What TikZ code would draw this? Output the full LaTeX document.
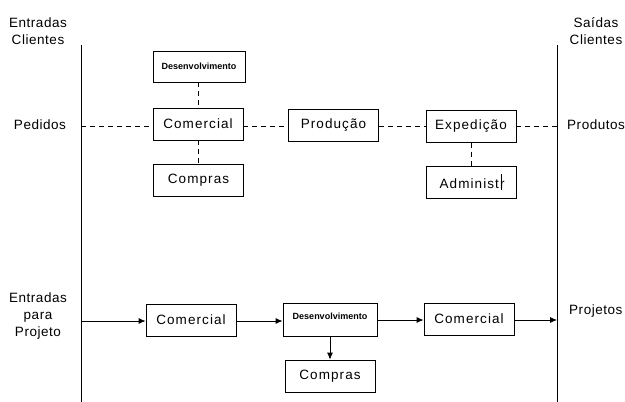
\documentclass[tikz,border=0pt]{standalone}
\usepackage{fontspec}
\setmainfont{Liberation Sans}
\usetikzlibrary{arrows.meta}
\begin{document}
\begin{tikzpicture}[x=1pt,y=-1pt,
  box/.style={draw,thick,minimum width=90pt,minimum height=32pt,inner sep=0pt,font=\fontsize{13.5}{15}\selectfont\addfontfeatures{LetterSpace=8}},
  lbl/.style={font=\fontsize{13.5}{17}\selectfont\addfontfeatures{LetterSpace=4},align=center,inner sep=0pt},
  small/.style={font=\fontsize{9}{10}\selectfont\bfseries\addfontfeatures{LetterSpace=0}},
  dsh/.style={thick,dash pattern=on 5pt off 4pt},
  arr/.style={thick,-{Latex[length=7pt,width=6pt]}}]
\useasboundingbox (0,0) rectangle (625,402);
% vertical lines
\coordinate (LT) at (81,45); \coordinate (LB) at (81,402);
\coordinate (RT) at (557,45); \coordinate (RB) at (557,402);
\draw[thick] (LT) -- (LB);
\draw[thick] (RT) -- (RB);
% labels
\node[lbl] (ec) at (38,31) {Entradas\\Clientes};
\node[lbl] (sc) at (596,31) {Saídas\\Clientes};
\node[lbl] (ped) at (40,125) {Pedidos};
\node[lbl,anchor=west] (prod) at (567,125) {Produtos};
\node[lbl] (ep) at (38,316) {Entradas\\para\\Projeto};
\node[lbl,anchor=west] (proj) at (569,311) {Projetos};
% top row
\node[box,small,minimum width=92pt,minimum height=31pt] (des1) at (199,66.5) {Desenvolvimento};
\node[box] (com1) at (198,124) {Comercial};
\node[box] (cmp1) at (198.5,180.5) {Compras};
\node[box] (pro) at (333.5,125.5) {Produção};
\node[box] (exp) at (471,126.5) {Expedição};
\node[box] (adm) at (471,182) {Administr\hspace{-3.5pt}\rule[-2pt]{1.3pt}{16pt}\hspace{3.5pt}};
\coordinate (PL) at (81,126);
\coordinate (PR) at (557,126);
\draw[dsh] (PL) -- (PL -| com1.west);
\draw[dsh] (com1.east |- PL) -- (pro.west |- PL);
\draw[dsh] (pro.east |- PL) -- (exp.west |- PL);
\draw[dsh] (exp.east |- PL) -- (PR);
\draw[dsh] (des1.south -| com1) -- (com1.north);
\draw[dsh] (com1.south) -- (cmp1.north -| com1);
\draw[dsh] (exp.south) -- (adm.north);
% bottom row
\node[box] (com2) at (191,320) {Comercial};
\node[box,small,minimum width=94pt,minimum height=33pt] (des2) at (330,319.5) {\raisebox{6pt}{Desenvolvimento}};
\node[box] (com3) at (469,319) {Comercial};
\node[box] (cmp2) at (330,376) {Compras};
\coordinate (AL) at (81,321);
\coordinate (AR) at (557,320);
\draw[arr] (AL) -- (AL -| com2.west);
\draw[arr] (com2.east |- 0,321) -- (des2.west |- 0,321);
\draw[arr] (des2.east |- 0,320) -- (com3.west |- 0,320);
\draw[arr] (com3.east |- AR) -- (AR);
\draw[arr] (des2.south) -- (cmp2.north);
\end{tikzpicture}
\end{document}
